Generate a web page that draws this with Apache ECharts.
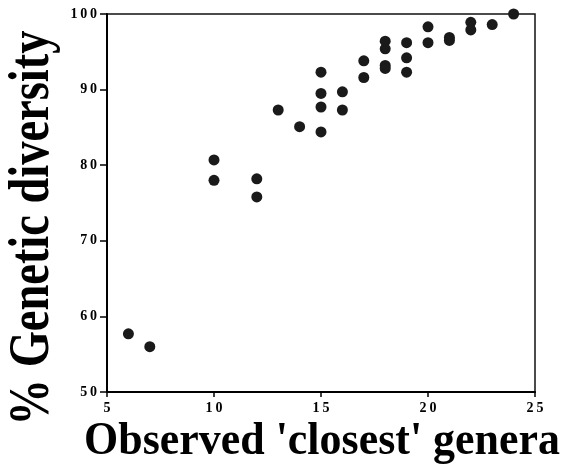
<!DOCTYPE html>
<html>
<head>
<meta charset="utf-8">
<script src="https://cdn.jsdelivr.net/npm/echarts@6/dist/echarts.min.js"></script>
<style>
  html, body { margin: 0; padding: 0; background: #fff; }
  #chart { width: 563px; height: 468px; }
</style>
</head>
<body>
<div id="chart"></div>
<script>
// observed 'closest' genera vs % genetic diversity
const generaX = [6, 7, 10, 10, 12, 12, 13, 14, 15, 15, 15, 15, 16, 16, 17, 17,
                 18, 18, 18, 18, 19, 19, 19, 20, 20, 21, 21, 22, 22, 23, 24];
const diversityY = [57.7, 56.0, 80.7, 78.0, 78.2, 75.8, 87.3, 85.1, 92.3, 89.5, 87.7, 84.4, 89.7, 87.3, 93.8, 91.6,
                    96.4, 95.4, 93.2, 92.8, 96.2, 94.2, 92.3, 98.3, 96.2, 96.9, 96.5, 98.9, 97.9, 98.6, 100.0];
const xTicks = [5, 10, 15, 20, 25];
const yTicks = [50, 60, 70, 80, 90, 100];
const xTitle = "Observed 'closest' genera";
const yTitle = '% Genetic diversity';

const points = generaX.map((x, i) => [x, diversityY[i]]);
const serif = 'Liberation Serif';
// spread the digits a bit like the original typesetting
const spaced = v => String(v).split('').join('\u2009');

let myChart = echarts.init(document.getElementById('chart'));
myChart.setOption({
    animation: false,
    grid: {
        left: 107, right: 28, top: 14, bottom: 76,
        containLabel: false,
        outerBoundsMode: 'none',
        show: true,
        borderColor: '#111',
        borderWidth: 1.5
    },
    xAxis: {
        type: 'value',
        min: xTicks[0],
        max: xTicks[xTicks.length - 1],
        interval: 5,
        axisLine: { lineStyle: { color: '#000', width: 2 } },
        axisTick: { length: 5, lineStyle: { color: '#000', width: 1.5 } },
        axisLabel: { fontFamily: serif, fontWeight: 'bold', fontSize: 14, color: '#000', margin: 9, formatter: spaced },
        splitLine: { show: false }
    },
    yAxis: {
        type: 'value',
        min: yTicks[0],
        max: yTicks[yTicks.length - 1],
        interval: 10,
        axisLine: { show: true, lineStyle: { color: '#000', width: 2 } },
        axisTick: { show: true, length: 7, lineStyle: { color: '#000', width: 1.5 } },
        axisLabel: { fontFamily: serif, fontWeight: 'bold', fontSize: 14, color: '#000', margin: 10, formatter: spaced },
        splitLine: { show: false }
    },
    graphic: [{
        type: 'text',
        x: 322,
        y: 442,
        scaleX: 0.935,
        style: {
            text: xTitle,
            font: 'bold 47px "Liberation Serif"',
            fill: '#000',
            align: 'center',
            verticalAlign: 'middle'
        }
    }, {
        type: 'text',
        x: 33,
        y: 228,
        rotation: Math.PI / 2,
        scaleX: 0.815,
        style: {
            text: yTitle,
            font: 'bold 57px "Liberation Serif"',
            fill: '#000',
            align: 'center',
            verticalAlign: 'middle'
        }
    }],
    series: [{
        type: 'scatter',
        data: points,
        symbolSize: 11,
        itemStyle: { color: '#1a1a1a', opacity: 1 }
    }]
});
</script>
</body>
</html>
